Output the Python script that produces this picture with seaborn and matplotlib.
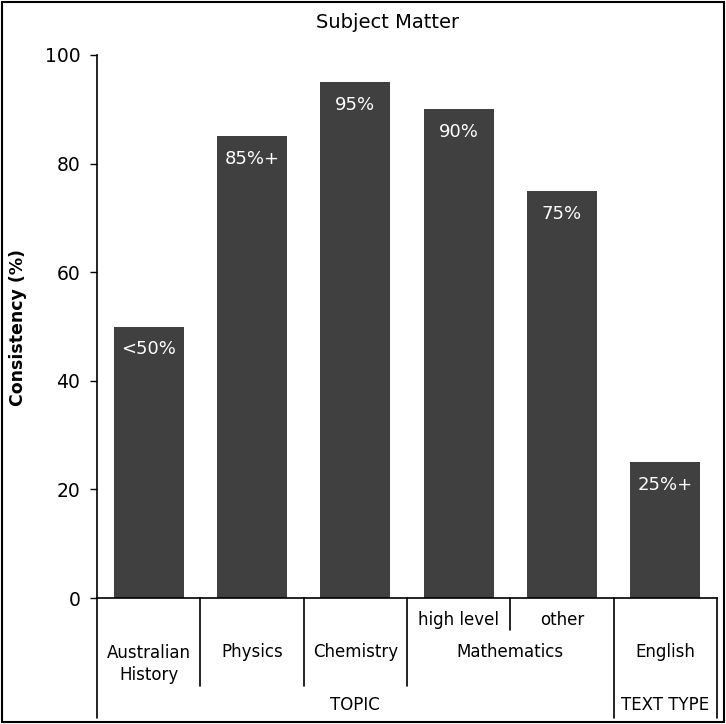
import matplotlib
matplotlib.use("Agg")
import matplotlib.pyplot as plt
import matplotlib.patches as mpatches
import seaborn as sns
import pandas as pd

# Data
categories = ["Australian History", "Physics", "Chemistry",
              "Mathematics high level", "Mathematics other", "English"]
consistency = [50, 85, 95, 90, 75, 25]
value_labels = ["<50%", "85%+", "95%", "90%", "75%", "25%+"]
y_ticks = [0, 20, 40, 60, 80, 100]

df = pd.DataFrame({"subject": categories, "consistency": consistency})

sns.set_theme(style="white")
plt.rcParams["font.family"] = ["DejaVu Sans"]

W, H = 726, 724
fig = plt.figure(figsize=(W / 100, H / 100), dpi=100)

# axes placement in pixels
ax_left, ax_right, ax_top, ax_bottom = 97, 717, 55, 598
ax = fig.add_axes([ax_left / W, (H - ax_bottom) / H,
                   (ax_right - ax_left) / W, (ax_bottom - ax_top) / H])

bar_color = "#404040"
sns.barplot(data=df, x="subject", y="consistency", color=bar_color,
            saturation=1, width=0.68, linewidth=0, ax=ax)

# value labels just inside the top of each bar
for rect, text in zip(ax.containers[0], value_labels):
    ax.annotate(text, (rect.get_x() + rect.get_width() / 2, rect.get_height()),
                xytext=(0, -10), textcoords="offset points",
                ha="center", va="top", color="white", fontsize=13)

ax.set_xlim(-0.5, len(categories) - 0.5)
ax.set_ylim(0, 100)
ax.set_yticks(y_ticks)
ax.tick_params(axis="y", direction="out", length=5, width=1, color="black",
               labelsize=13.5, pad=7, left=True, labelcolor="black")
ax.set_xticks([])
ax.set_xlabel("")
ax.set_ylabel("")

for side in ["top", "right"]:
    ax.spines[side].set_visible(False)
for side in ["left", "bottom"]:
    ax.spines[side].set_color("black")
    ax.spines[side].set_linewidth(1.2)

fig.text(18 / W, 1 - 327 / H, "Consistency (%)", rotation=90,
         ha="center", va="center", fontsize=12.5, fontweight="bold",
         color="black")

span = ax_bottom - ax_top


def yfrac(py):
    return (ax_bottom - py) / span


tr = ax.get_xaxis_transform()

# grouping lines beneath the category axis
group_lines = [(-0.5, 718), (0.5, 686), (1.5, 686), (2.5, 686),
               (3.5, 630), (4.5, 718), (5.5, 718)]
for xv, py in group_lines:
    ax.plot([xv, xv], [0, yfrac(py)], color="black", lw=1.2,
            transform=tr, clip_on=False)

lab_kw = dict(transform=tr, ha="center", va="center", fontsize=12,
              color="black", clip_on=False)
ax.text(3, yfrac(620), "high level", **lab_kw)
ax.text(4, yfrac(620), "other", **lab_kw)
ax.text(0, yfrac(664), "Australian\nHistory", linespacing=1.25, **lab_kw)
ax.text(1, yfrac(652), "Physics", **lab_kw)
ax.text(2, yfrac(652), "Chemistry", **lab_kw)
ax.text(3.5, yfrac(652), "Mathematics", **lab_kw)
ax.text(5, yfrac(652), "English", **lab_kw)
ax.text(2, yfrac(705), "TOPIC", **lab_kw)
ax.text(5, yfrac(705), "TEXT TYPE", **lab_kw)

fig.text(388 / W, 1 - 23 / H, "Subject Matter", ha="center", va="center",
         fontsize=14, color="black")

# outer frame around the whole chart
fig.patches.append(mpatches.Rectangle((2 / W, 2 / H), 1 - 4 / W, 1 - 4 / H,
                                      transform=fig.transFigure, fill=False,
                                      edgecolor="black", lw=1.5))

fig.savefig("out.png", dpi=100, facecolor="white")
